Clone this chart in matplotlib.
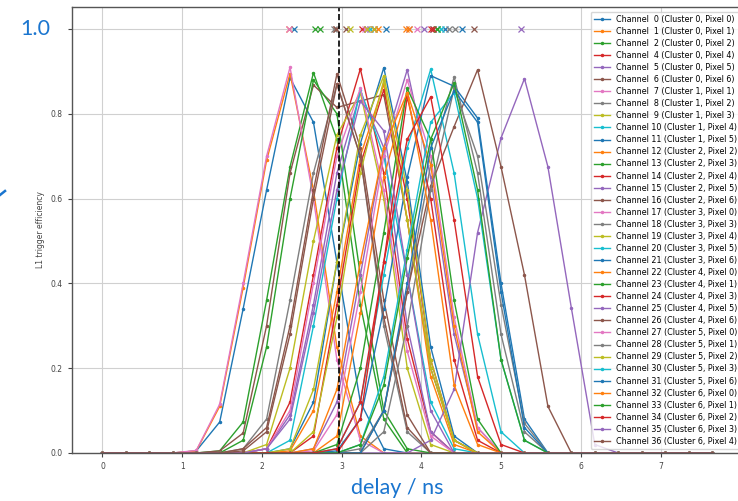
import numpy as np
import matplotlib.pyplot as plt
from matplotlib.lines import Line2D


# delay scan points (ns)
delays = [0.0, 0.294, 0.588, 0.882, 1.176, 1.47, 1.764, 2.058, 2.352, 2.646,
          2.94, 3.234, 3.528, 3.822, 4.116, 4.41, 4.704, 4.998, 5.292, 5.586,
          5.88, 6.174, 6.468, 6.762, 7.056, 7.35, 7.644]

channels = [0, 1, 2, 4, 5, 6, 7, 8, 9, 10, 11, 12, 13, 14, 15, 16, 17, 18,
            19, 20, 21, 22, 23, 24, 25, 26, 27, 28, 29, 30, 31, 32, 33, 34, 35, 36]
clusters = [0, 0, 0, 0, 0, 0, 1, 1, 1, 1, 1, 2, 2, 2, 2, 2, 3, 3,
            3, 3, 3, 4, 4, 4, 4, 4, 5, 5, 5, 5, 5, 6, 6, 6, 6, 6]
pixels = [0, 1, 2, 4, 5, 6, 1, 2, 3, 4, 5, 2, 3, 4, 5, 6, 0, 3,
          4, 5, 6, 0, 1, 3, 5, 6, 0, 1, 2, 3, 6, 0, 1, 2, 3, 4]

# first scan index where the efficiency leaves zero, then the non-zero part
starts = [4, 4, 5, 7, 7, 5, 4, 6, 7, 8, 8, 8, 5, 9, 9, 6, 9, 11,
          8, 10, 10, 10, 10, 11, 14, 12, 7, 12, 9, 11, 12, 9, 11, 10, 7, 6]
efficiency = [
    [0.005, 0.073, 0.34, 0.62, 0.885, 0.78, 0.45, 0.12, 0.01],          # ch 0
    [0.005, 0.11, 0.39, 0.69, 0.895, 0.62, 0.25, 0.04],                 # ch 1
    [0.005, 0.073, 0.36, 0.675, 0.897, 0.74, 0.35, 0.08],               # ch 2
    [0.01, 0.12, 0.42, 0.72, 0.906, 0.66, 0.27, 0.05],                  # ch 4
    [0.01, 0.09, 0.35, 0.66, 0.85, 0.72, 0.30, 0.05],                   # ch 5
    [0.005, 0.047, 0.30, 0.66, 0.868, 0.815, 0.83, 0.845, 0.55, 0.20, 0.03],  # ch 6
    [0.006, 0.115, 0.40, 0.70, 0.91, 0.60, 0.22, 0.03],                 # ch 7
    [0.01, 0.08, 0.36, 0.66, 0.87, 0.70, 0.30, 0.05],                   # ch 8
    [0.02, 0.20, 0.50, 0.75, 0.85, 0.60, 0.20, 0.02],                   # ch 9
    [0.03, 0.30, 0.60, 0.857, 0.70, 0.42, 0.12, 0.01],                  # ch 10
    [0.01, 0.12, 0.45, 0.73, 0.909, 0.64, 0.25, 0.04],                  # ch 11
    [0.005, 0.10, 0.38, 0.70, 0.87, 0.55, 0.18, 0.02],                  # ch 12
    [0.0, 0.03, 0.25, 0.60, 0.88, 0.80, 0.42, 0.10, 0.01],              # ch 13
    [0.04, 0.35, 0.68, 0.857, 0.60, 0.22, 0.03],                        # ch 14
    [0.01, 0.12, 0.42, 0.72, 0.904, 0.65, 0.28, 0.06],                  # ch 15
    [0.01, 0.06, 0.30, 0.62, 0.894, 0.72, 0.36, 0.09],                  # ch 16
    [0.005, 0.09, 0.38, 0.70, 0.88, 0.70, 0.32, 0.06],                  # ch 17
    [0.01, 0.10, 0.38, 0.68, 0.887, 0.66, 0.28, 0.05],                  # ch 18
    [0.01, 0.15, 0.45, 0.75, 0.89, 0.62, 0.22, 0.03],                   # ch 19
    [0.01, 0.12, 0.42, 0.72, 0.905, 0.66, 0.28, 0.05],                  # ch 20
    [0.005, 0.08, 0.34, 0.65, 0.89, 0.865, 0.79, 0.40, 0.08],           # ch 21
    [0.04, 0.33, 0.65, 0.85, 0.68, 0.30, 0.05],                         # ch 22
    [0.02, 0.20, 0.52, 0.86, 0.74, 0.36, 0.08],                         # ch 23
    [0.08, 0.45, 0.84, 0.60, 0.22, 0.03],                               # ch 24
    [0.03, 0.15, 0.52, 0.743, 0.883, 0.675, 0.342, 0.02],               # ch 25
    [0.10, 0.38, 0.63, 0.77, 0.904, 0.675, 0.42, 0.11],                 # ch 26
    [0.01, 0.10, 0.40, 0.70, 0.86, 0.62, 0.24, 0.04],                   # ch 27
    [0.05, 0.30, 0.62, 0.86, 0.70, 0.35, 0.07],                         # ch 28
    [0.05, 0.32, 0.66, 0.88, 0.55, 0.20, 0.03],                         # ch 29
    [0.02, 0.18, 0.48, 0.78, 0.85, 0.60, 0.22, 0.03],                   # ch 30
    [0.10, 0.40, 0.72, 0.855, 0.78, 0.38, 0.06],                        # ch 31
    [0.01, 0.15, 0.45, 0.72, 0.85, 0.55, 0.16, 0.02],                   # ch 32
    [0.02, 0.16, 0.46, 0.74, 0.873, 0.62, 0.22, 0.03],                  # ch 33
    [0.01, 0.12, 0.45, 0.74, 0.84, 0.55, 0.18, 0.02],                   # ch 34
    [0.01, 0.08, 0.33, 0.62, 0.83, 0.76, 0.42, 0.10],                   # ch 35
    [0.005, 0.05, 0.28, 0.60, 0.87, 0.70, 0.32, 0.06],                  # ch 36
]

# mean delay of each channel, drawn as crosses on top
best_delay = [2.40, 2.335, 2.67, 3.25, 3.32, 3.06, 2.335, 2.90, 3.11, 3.36,
              3.55, 3.45, 2.73, 3.41, 3.85, 2.93, 3.94, 4.42, 3.41, 4.15,
              4.30, 3.81, 4.19, 4.12, 5.25, 4.66, 3.29, 4.35, 3.32, 4.24,
              4.51, 3.85, 4.19, 4.15, 4.035, 2.93]

chosen_delay = 2.96

BLUE = '#1a75cf'


def full_curve(start, values):
    eff = np.zeros(len(delays))
    eff[start:start + len(values)] = values
    return eff


def main():
    fig = plt.figure(figsize=(7.38, 5.01), dpi=100)
    # axes run a little past the right edge of the figure
    ax = fig.add_axes([72 / 738, 48 / 501, 676 / 738, 446 / 501])

    colors = plt.rcParams['axes.prop_cycle'].by_key()['color']
    x = np.array(delays)
    for i, ch in enumerate(channels):
        c = colors[i % len(colors)]
        eff = full_curve(starts[i], efficiency[i])
        label = 'Channel %2d (Cluster %d, Pixel %d)' % (ch, clusters[i], pixels[i])
        ax.plot(x, eff, '.-', color=c, lw=1.0, ms=3, label=label)
        ax.plot([best_delay[i]], [1.0], 'x', color=c, ms=4, mew=0.9)

    ax.axvline(chosen_delay, color='k', ls='--', lw=1.2)

    ax.set_xlim(-0.382, 8.095)
    ax.set_ylim(0, 1.052)
    ax.set_xticks(range(8))
    ax.set_yticks([0.0, 0.2, 0.4, 0.6, 0.8, 1.0])
    ax.set_yticklabels(['0.0', '0.2', '0.4', '0.6', '0.8', ''])
    ax.tick_params(labelsize=5.5, colors='#444444', length=3, width=0.8)
    ax.grid(True, color='#d0d0d0', lw=0.8)
    ax.set_axisbelow(True)
    for s in ax.spines.values():
        s.set_color('#555555')
        s.set_linewidth(1.0)
    ax.set_ylabel('L1 trigger efficiency', fontsize=5.5, color='#444444', labelpad=4)

    ax.legend(loc='upper right', fontsize=5.8, labelspacing=0.38,
              bbox_to_anchor=(741 / 738, 1 - 11.5 / 501),
              bbox_transform=fig.transFigure, borderaxespad=0, framealpha=0.8)

    # labels added on top of the plot
    fig.text(20 / 738, 1 - 29 / 501, '1.0', fontsize=15.5, color=BLUE,
             family='Lato', va='center', ha='left')
    fig.text(397 / 738, 1 - 488 / 501, 'delay / ns', fontsize=15.5, color=BLUE,
             family='Lato', va='center', ha='center')
    fig.add_artist(Line2D([0, 5 / 738], [1 - 195 / 501, 1 - 191 / 501],
                          color=BLUE, lw=1.8, transform=fig.transFigure))

    fig.savefig('out.png', dpi=100)


if __name__ == '__main__':
    main()
